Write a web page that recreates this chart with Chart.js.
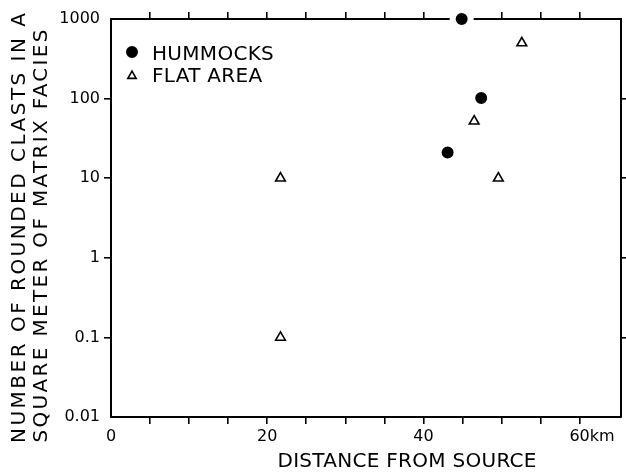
<!DOCTYPE html>
<html><head><meta charset="utf-8">
<script src="https://cdn.jsdelivr.net/npm/chart.js@4/dist/chart.umd.min.js"></script>
<style>html,body{margin:0;padding:0;background:#fff;} #wrap{width:626px;height:473px;position:relative;}</style>
</head><body><div id="wrap"><canvas id="c" width="626" height="473"></canvas></div>
<script>
// ---- data ----
const hummocksX = [44.9, 47.4, 43.1];
const hummocksY = [1000, 102, 21];
const flatX = [52.6, 46.5, 49.6, 21.7, 21.7];
const flatY = [500, 52, 10, 10, 0.1];
const yTickValues = [0.01, 0.1, 1, 10, 100, 1000];
const yTickLabels = ['0.01', '0.1', '1', '10', '100', '1000'];
const xTickLabels = {0: '0', 20: '20', 40: '40', 60: '60'};
const xUnit = 'km';
const seriesNames = ['HUMMOCKS', 'FLAT AREA'];
const xTitle = 'DISTANCE FROM SOURCE';
const yTitle = ['NUMBER OF ROUNDED CLASTS IN A', 'SQUARE METER OF MATRIX FACIES'];
const xMin = 0, xMax = 65.3, xStep = 5;
const yMin = 0.01, yMax = 1000;

const FONT = 'DejaVu Sans';

function spacedText(ctx, text, x, y, target) {
  ctx.letterSpacing = '0px';
  const w0 = ctx.measureText(text).width;
  const sp = (target - w0) / Math.max(1, text.length - 1);
  ctx.letterSpacing = sp + 'px';
  ctx.textAlign = 'left';
  ctx.fillText(text, x - target / 2, y);
  ctx.letterSpacing = '0px';
}

const deco = {
  id: 'deco',
  afterDraw(chart) {
    const ctx = chart.ctx;
    ctx.save();
    ctx.fillStyle = '#000';
    ctx.font = '20px "' + FONT + '"';
    ctx.textBaseline = 'alphabetic';
    spacedText(ctx, xTitle, 407, 467, 259);
    const yl = [[20, 228, 430], [42, 236, 413]];
    yTitle.forEach((t, i) => {
      ctx.save();
      ctx.translate(yl[i][0], yl[i][1]);
      ctx.rotate(-Math.PI / 2);
      ctx.textBaseline = 'middle';
      spacedText(ctx, t, 0, 0, yl[i][2]);
      ctx.restore();
    });
    const xs = chart.scales.x;
    ctx.font = '16px "' + FONT + '"';
    const px = xs.getPixelForValue(60) + ctx.measureText(xTickLabels[60]).width / 2;
    let ty = xs.top + 10, base = 'top';
    try {
      const items = xs.getLabelItems(chart.chartArea);
      const it = items.find(o => o.label === xTickLabels[60]);
      if (it) { ty = it.options.translation[1] + (it.textOffset || 0); base = it.options.textBaseline; }
    } catch (e) {}
    ctx.textBaseline = base;
    ctx.textAlign = 'left';
    ctx.fillText(xUnit, px, ty);
    const legendPos = [[132, 52, 60, 9], [132, 76, 82, 4.8]];
    chart.data.datasets.forEach((ds, i) => {
      const [lx, ly, by, r] = legendPos[i];
      ctx.fillStyle = ds.backgroundColor;
      ctx.strokeStyle = ds.borderColor;
      ctx.lineWidth = ds.borderWidth;
      Chart.helpers.drawPoint(ctx, {pointStyle: ds.pointStyle, radius: r, borderWidth: ds.borderWidth, rotation: 0}, lx, ly);
      ctx.fillStyle = '#000';
      ctx.font = '20px "' + FONT + '"';
      ctx.textBaseline = 'alphabetic';
      ctx.textAlign = 'left';
      ctx.letterSpacing = '0.3px';
      ctx.fillText(ds.label, 152, by);
      ctx.letterSpacing = '0px';
    });
    ctx.restore();
  }
};

// hide tick marks that fall on the frame corners
const tickColor = c => {
  const s = c.scale, v = c.tick ? c.tick.value : null;
  return (v === s.min || v === s.max) ? 'rgba(0,0,0,0)' : '#000';
};
const gridOpts = {drawOnChartArea: false, drawTicks: true, tickLength: 7, color: tickColor, lineWidth: 1.6};
const borderOpts = {display: true, color: '#000', width: 2};
const logTicks = s => { s.ticks = yTickValues.map(v => ({value: v, major: true})); };

new Chart(document.getElementById('c'), {
  type: 'scatter',
  data: {
    datasets: [
      {
        label: seriesNames[0],
        data: hummocksX.map((x, i) => ({x, y: hummocksY[i]})),
        pointStyle: 'circle', pointRadius: 9, backgroundColor: '#000',
        borderColor: '#fff', borderWidth: 6, clip: false
      },
      {
        label: seriesNames[1],
        data: flatX.map((x, i) => ({x, y: flatY[i]})),
        pointStyle: 'triangle', pointRadius: 5.6, backgroundColor: 'rgba(255,255,255,0)',
        borderColor: '#000', borderWidth: 1.6, clip: false
      }
    ]
  },
  options: {
    responsive: false, animation: false, events: [],
    layout: {padding: 0, autoPadding: false},
    plugins: {legend: {display: false}, tooltip: {enabled: false}, title: {display: false}},
    scales: {
      x: {
        type: 'linear', position: 'bottom', min: xMin, max: xMax,
        grid: gridOpts, border: borderOpts,
        ticks: {stepSize: xStep, autoSkip: false, maxRotation: 0, padding: 3, color: '#000',
          font: {family: FONT, size: 16},
          callback: v => (xTickLabels[v] !== undefined ? xTickLabels[v] : '')},
        afterFit: s => { s.height = 56; }
      },
      x2: {
        type: 'linear', position: 'top', min: xMin, max: xMax,
        grid: gridOpts, border: borderOpts,
        ticks: {stepSize: xStep, autoSkip: false, display: false},
        afterFit: s => { s.height = 19; }
      },
      y: {
        type: 'logarithmic', position: 'left', min: yMin, max: yMax,
        grid: gridOpts, border: borderOpts,
        afterBuildTicks: logTicks,
        ticks: {autoSkip: false, padding: 4, color: '#000', font: {family: FONT, size: 16},
          callback: v => { const k = yTickValues.indexOf(v); return k >= 0 ? yTickLabels[k] : ''; }},
        afterFit: s => { s.width = 111; }
      },
      y2: {
        type: 'logarithmic', position: 'right', min: yMin, max: yMax,
        grid: gridOpts, border: borderOpts,
        afterBuildTicks: logTicks,
        ticks: {display: false},
        afterFit: s => { s.width = 5; }
      }
    }
  },
  plugins: [deco]
});
</script>
</body></html>
